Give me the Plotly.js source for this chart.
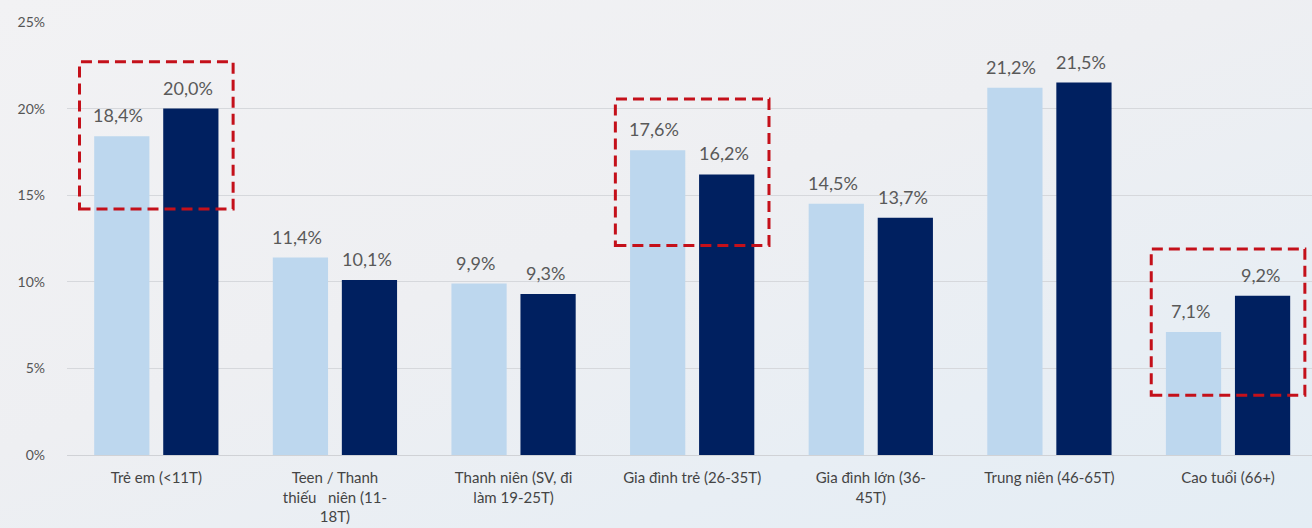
<!DOCTYPE html>
<html>
<head>
<meta charset="utf-8">
<script src="https://cdn.plot.ly/plotly-3.0.1.min.js"></script>
<style>
  html, body { margin:0; padding:0; width:1312px; height:528px; overflow:hidden; }
  body { background: linear-gradient(160deg, #f2f2f4 0%, #eeeff2 45%, #e8eef4 75%, #e4edf4 100%); }
  #chart { width:1312px; height:528px; }
</style>
</head>
<body>
<div id="chart"></div>
<script>
const categories = [
  "Trẻ em (&lt;11T)",
  "Teen / Thanh<br>thiếu   niên (11-<br>18T)",
  "Thanh niên (SV, đi<br>làm 19-25T)",
  "Gia đình trẻ (26-35T)",
  "Gia đình lớn (36-<br>45T)",
  "Trung niên (46-65T)",
  "Cao tuổi (66+)"
];
const seriesA = [18.4, 11.4, 9.9, 17.6, 14.5, 21.2, 7.1];
const seriesB = [20.0, 10.1, 9.3, 16.2, 13.7, 21.5, 9.2];
const yTickVals = [0, 5, 10, 15, 20, 25];
const yTickText = ["0%", "5%", "10%", "15%", "20%", "25%"];
const highlighted = [0, 3, 6];
const boxBottoms = [14.2, 12.1, 3.45];
const boxTops = [22.7, 20.55, 11.9];

const lightColor = "#bdd7ee";
const darkColor = "#002060";
const fontFam = "Lato, 'Noto Sans', sans-serif";

const fmt = v => v.toFixed(1).replace(".", ",") + "%";

const traces = [
  { type: "bar", x: categories, y: seriesA, marker: { color: lightColor }, hoverinfo: "skip" },
  { type: "bar", x: categories, y: seriesB, marker: { color: darkColor }, hoverinfo: "skip" }
];

const annotations = [];
categories.forEach((c, i) => {
  annotations.push({ x: c, y: seriesA[i], text: fmt(seriesA[i]), showarrow: false, xanchor: "center", yanchor: "bottom", xshift: -38, yshift: 8, font: { family: fontFam, size: 18, color: "#595959" } });
  annotations.push({ x: c, y: seriesB[i], text: fmt(seriesB[i]), showarrow: false, xanchor: "center", yanchor: "bottom", xshift: 32, yshift: 8, font: { family: fontFam, size: 18, color: "#595959" } });
});

// dashed highlight boxes around selected groups
const shapes = highlighted.map((i, k) => ({
  type: "rect", xref: "x", yref: "y", x0: i - 0.43, x1: i + 0.43, y0: boxBottoms[k], y1: boxTops[k],
  line: { color: "#c4101a", width: 3, dash: "11px,6px" }, fillcolor: "rgba(0,0,0,0)"
}));

const layout = {
  width: 1312, height: 528,
  margin: { l: 67, r: 0, t: 22, b: 73 },
  paper_bgcolor: "rgba(0,0,0,0)",
  plot_bgcolor: "rgba(0,0,0,0)",
  showlegend: false,
  barmode: "group",
  bargap: 0.227,
  bargroupgap: 0.2,
  font: { family: fontFam, color: "#555555" },
  xaxis: {
    type: "category",
    range: [-0.5, 6.47],
    showgrid: false,
    zeroline: false,
    showline: false,
    ticks: "",
    ticklabelstandoff: 12,
    tickfont: { family: fontFam, size: 15, color: "#444444" },
    tickangle: 0,
    automargin: false
  },
  yaxis: {
    range: [0, 25],
    tickvals: yTickVals,
    ticktext: yTickText,
    showgrid: true,
    gridcolor: "#d6d8dc",
    gridwidth: 1,
    zeroline: true,
    zerolinecolor: "#d0d2d6",
    zerolinewidth: 1,
    showline: false,
    ticks: "",
    ticklabelstandoff: 21,
    tickfont: { family: fontFam, size: 14, color: "#555555" },
    automargin: false
  },
  annotations: annotations,
  shapes: shapes
};

Plotly.newPlot("chart", traces, layout, { displayModeBar: false, staticPlot: true });
</script>
</body>
</html>
